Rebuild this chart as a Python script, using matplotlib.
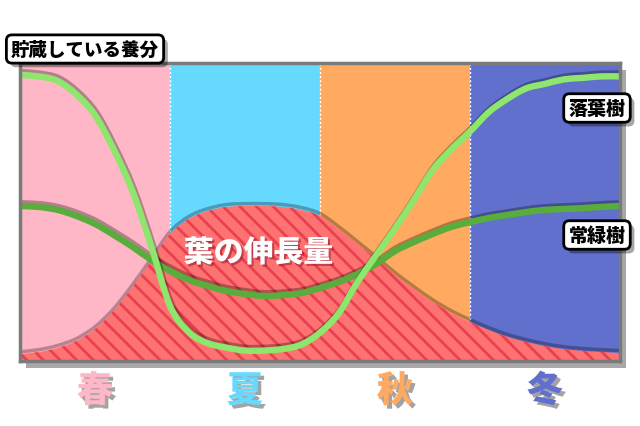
import numpy as np
import matplotlib
matplotlib.use("Agg")
import matplotlib.pyplot as plt
from matplotlib.patches import Rectangle, PathPatch
from matplotlib.path import Path
import matplotlib.patheffects as pe

plt.rcParams['font.family'] = ['Noto Sans CJK JP', 'DejaVu Sans']
plt.rcParams['hatch.linewidth'] = 2.0

# ---- data ----
seasons = ['春', '夏', '秋', '冬']
season_colors = ['#FFB6C6', '#66D9FF', '#FFAA60', '#6070CC']
x = np.arange(33) * 0.125  # season axis, 0..4

deciduous = [96, 95.5, 94, 89.5, 82.5, 71, 57, 38.5, 18.5, 9.7, 6, 4.5, 3.5, 3.5, 4, 5.5,
             9.5, 16, 26.5, 35.5, 44.5, 54, 64, 71, 77, 83.5, 88, 91.5, 93, 94.5, 95, 95.5, 95.5]
evergreen = [52, 51.7, 50.7, 48.7, 46, 42.3, 38.3, 33.9, 30.2, 27.2, 25.2, 23.5, 22.5, 21.8, 22.1,
             22.8, 24.5, 26.5, 29.2, 32.6, 36.9, 39.9, 42.6, 45, 46.6, 48, 49, 50, 50.7, 51, 51.3, 51.7, 52]
leaf_growth = [2.3, 3, 4.4, 6.7, 10.7, 16.8, 24.8, 33.6, 42.6, 47.7, 50.3, 51.7, 52, 52, 51.7, 50.7,
               48.7, 44.3, 39.3, 34.2, 28.9, 24.2, 19.8, 16.1, 13.1, 10.4, 8.1, 6.4, 5, 4, 3.4, 3, 2.7]

title_label = '貯蔵している養分'
deciduous_label = '落葉樹'
evergreen_label = '常緑樹'
growth_label = '葉の伸長量'


def smooth_path(xs, ys):
    """Cubic Bezier path passing through every data point (Catmull-Rom style)."""
    p = np.column_stack([xs, ys]).astype(float)
    n = len(p)
    verts = [p[0]]
    codes = [Path.MOVETO]
    for i in range(n - 1):
        p0 = p[i - 1] if i > 0 else p[i]
        p1, p2 = p[i], p[i + 1]
        p3 = p[i + 2] if i + 2 < n else p[i + 1]
        verts += [p1 + (p2 - p0) / 6, p2 - (p3 - p1) / 6, p2]
        codes += [Path.CURVE4] * 3
    return verts, codes


W, H = 640, 427
fig = plt.figure(figsize=(6.4, 4.27), dpi=100)
fig.patch.set_facecolor('white')

L, R, T, B = 20, 620, 64, 362
# drop shadow of the frame
shadow_rect = Rectangle(((L + 6) / W, 1 - (B + 7) / H), (R - L) / W, (B - T) / H,
                        transform=fig.transFigure, fc='#A8A8A8', ec='none')
shadow_rect.set_zorder(-10)
fig.patches.append(shadow_rect)

ax = fig.add_axes([L / W, 1 - B / H, (R - L) / W, (B - T) / H])
ax.set_zorder(1)
ax.set_xlim(0, 4)
ax.set_ylim(0, 100)
ax.set_xticks([])
ax.set_yticks([])
for s in ax.spines.values():
    s.set_color('#7A7A7A')
    s.set_linewidth(2.5)
    s.set_zorder(20)

for i, c in enumerate(season_colors):
    ax.axvspan(i, i + 1, color=c, zorder=1, lw=0)
for i in range(1, 4):
    ax.axvline(i, color='white', lw=1.0, ls=(0, (1.5, 1.5)), zorder=2)

# leaf growth area
v, c = smooth_path(x, np.array(leaf_growth) + 0.8)
ax.add_patch(PathPatch(Path(v, c), fc='none', ec='black', alpha=0.28, lw=2.5, zorder=3))
v, c = smooth_path(x, leaf_growth)
v = v + [(x[-1], 0), (x[0], 0), (x[0], leaf_growth[0])]
c = c + [Path.LINETO, Path.LINETO, Path.CLOSEPOLY]
ax.add_patch(PathPatch(Path(v, c), facecolor='#FF7272', edgecolor='#E8404E',
                       hatch='\\\\', lw=0, zorder=4))

shadow = [pe.SimpleLineShadow(offset=(0.8, 2.0), shadow_color='black', alpha=0.3), pe.Normal()]
for ys, col, z in [(evergreen, '#58AD3C', 6), (deciduous, '#8EE66C', 7)]:
    v, c = smooth_path(x, ys)
    ax.add_patch(PathPatch(Path(v, c), fc='none', ec=col, lw=4.6, zorder=z,
                           capstyle='butt', path_effects=shadow))

ax.text(1.59, 36.5, growth_label, fontsize=21.5, fontweight='black', color='white',
        ha='center', va='center', zorder=10,
        path_effects=[pe.withSimplePatchShadow(offset=(1.5, -1.5), shadow_rgbFace='#A02030', alpha=0.6)])

# season labels
for i, (s, col) in enumerate(zip(seasons, season_colors)):
    ax.text(i + 0.5, -10, s, fontsize=26, fontweight='black', color=col, ha='center', va='center',
            clip_on=False,
            path_effects=[pe.withSimplePatchShadow(offset=(2.5, -2.5), shadow_rgbFace='#999999', alpha=0.9)])


def boxed(px, py, txt, size):
    t = fig.text(px / W, 1 - py / H, txt, fontsize=size, fontweight='black', color='black',
                 ha='center', va='center', zorder=30,
                 bbox=dict(boxstyle='round,pad=0.25,rounding_size=0.3', fc='white', ec='black', lw=2))
    t.get_bbox_patch().set_path_effects([pe.SimplePatchShadow(offset=(3, -3), shadow_rgbFace='black', alpha=0.35),
                                         pe.Normal()])
    return t


boxed(85, 50, title_label, 13.3)
boxed(597, 109, deciduous_label, 13.7)
boxed(597, 236, evergreen_label, 13.7)

fig.savefig('out.png', dpi=100)
